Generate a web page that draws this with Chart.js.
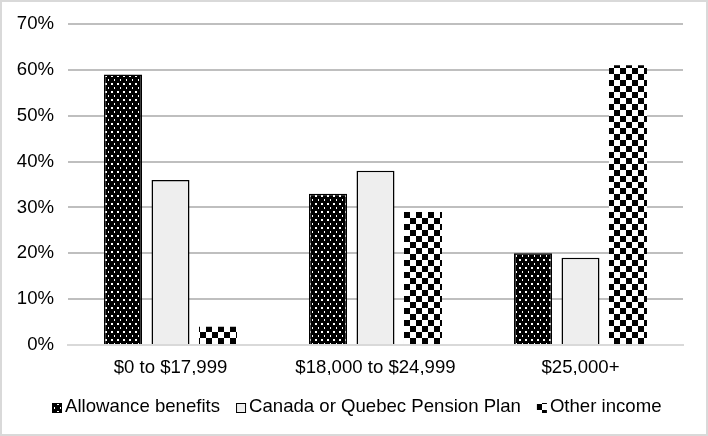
<!DOCTYPE html>
<html>
<head>
<meta charset="utf-8">
<script src="https://cdn.jsdelivr.net/npm/chart.js@4/dist/chart.umd.min.js"></script>
<style>
  html, body { margin: 0; padding: 0; background: #fff; }
  #wrap { width: 704px; height: 432px; border: 2px solid #d9d9d9; }
</style>
</head>
<body>
<div id="wrap"><canvas id="chart" width="704" height="432"></canvas></div>
<script>
const categories = ["$0 to $17,999", "$18,000 to $24,999", "$25,000+"];
const allowance = [59, 33, 20];
const pensionPlan = [36, 38, 19];
const otherIncome = [4, 29, 61];
const yTicks = [0, 10, 20, 30, 40, 50, 60, 70];

// -----------------------------
// Fill patterns
// -----------------------------
function dotPattern() {
  const c = document.createElement("canvas");
  c.width = 6; c.height = 8;
  const g = c.getContext("2d");
  g.fillStyle = "#000";
  g.fillRect(0, 0, 6, 8);
  g.fillStyle = "#fff";
  g.fillRect(1, 1, 2, 2);
  g.fillRect(4, 5, 1, 2);
  return g.createPattern(c, "repeat");
}

function checkerPattern() {
  const c = document.createElement("canvas");
  c.width = 12; c.height = 12;
  const g = c.getContext("2d");
  g.fillStyle = "#fff";
  g.fillRect(0, 0, 12, 12);
  g.fillStyle = "#000";
  g.fillRect(0, 0, 6, 6);
  g.fillRect(6, 6, 6, 6);
  return g.createPattern(c, "repeat");
}

const font = { family: "'Liberation Sans', Arial, sans-serif", size: 18.6 };

// -----------------------------
// Legend (tight Excel-like spacing)
// -----------------------------
const bottomLegend = {
  id: "bottomLegend",
  afterDraw(chart) {
    const ctx = chart.ctx;
    const box = 10, textGap = 3, itemGap = 16;
    ctx.save();
    ctx.font = `${font.size}px ${font.family}`;
    const items = chart.data.datasets.map(ds => ({
      ds,
      w: box + textGap + ctx.measureText(ds.label).width
    }));
    const total = items.reduce((s, it) => s + it.w, 0) + itemGap * (items.length - 1);
    let x = Math.round((chart.width - total) / 2) + 3;
    const base = chart.height - 22;
    items.forEach(it => {
      ctx.fillStyle = it.ds.backgroundColor;
      ctx.fillRect(x, base - 9, box, box);
      if (it.ds.borderWidth) {
        ctx.strokeStyle = "#000";
        ctx.lineWidth = 1;
        ctx.strokeRect(x + 0.5, base - 8.5, box - 1, box - 1);
      }
      ctx.fillStyle = "#000";
      ctx.textBaseline = "alphabetic";
      ctx.fillText(it.ds.label, x + box + textGap, base);
      x += it.w + itemGap;
    });
    ctx.restore();
  }
};

new Chart(document.getElementById("chart"), {
  type: "bar",
  data: {
    labels: categories,
    datasets: [
      {
        label: "Allowance benefits",
        data: allowance,
        backgroundColor: dotPattern(),
        borderColor: "#000",
        borderWidth: 1.5
      },
      {
        label: "Canada or Quebec Pension Plan",
        data: pensionPlan,
        backgroundColor: "#eeeeee",
        borderColor: "#000",
        borderWidth: 1.5
      },
      {
        label: "Other income",
        data: otherIncome,
        backgroundColor: checkerPattern(),
        borderColor: "#000",
        borderWidth: 0
      }
    ]
  },
  plugins: [bottomLegend],
  options: {
    responsive: false,
    animation: false,
    layout: { padding: { left: 0, right: 23, top: 22, bottom: 59 } },
    datasets: {
      bar: { categoryPercentage: 0.695, barPercentage: 0.8 }
    },
    plugins: {
      legend: { display: false },
      tooltip: { enabled: false }
    },
    scales: {
      x: {
        afterFit: axis => { axis.height = 30; axis.paddingLeft = 0; axis.paddingRight = 0; },
        grid: { display: false, drawTicks: false },
        border: { color: "#d9d9d9", width: 2 },
        ticks: { color: "#000", font: font, padding: 12 }
      },
      y: {
        min: 0,
        max: 70,
        afterBuildTicks: axis => { axis.ticks = yTicks.map(v => ({ value: v })); },
        afterFit: axis => { axis.width = 66; axis.paddingTop = 0; axis.paddingBottom = 0; },
        grid: { color: "#bfbfbf", lineWidth: 2, drawTicks: false },
        border: { display: false },
        ticks: {
          color: "#000",
          font: font,
          padding: 14,
          callback: v => v + "%"
        }
      }
    }
  }
});
</script>
</body>
</html>
